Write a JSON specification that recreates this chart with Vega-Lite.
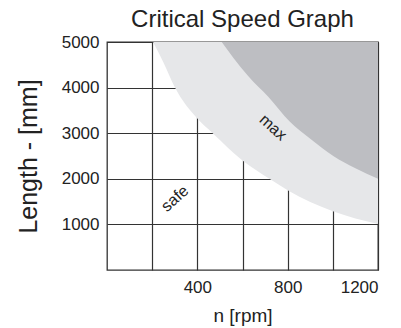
{
  "$schema": "https://vega.github.io/schema/vega-lite/v6.json",
  "width": 271,
  "height": 228,
  "autosize": {"type": "none"},
  "padding": {"left": 107, "top": 42, "right": 23, "bottom": 58},
  "background": "white",
  "title": {"text": "Critical Speed Graph", "font": "Liberation Sans", "fontSize": 24, "fontWeight": "normal", "color": "#222222", "anchor": "middle", "offset": 1},
  "config": {
    "view": {"stroke": "#333333", "strokeWidth": 1.3},
    "axis": {"labelFont": "Liberation Sans", "titleFont": "Liberation Sans", "labelColor": "#222222", "titleColor": "#222222", "titleFontWeight": "normal", "gridColor": "#333333", "gridOpacity": 1, "gridWidth": 1.2, "ticks": false, "domain": false}
  },
  "datasets": {
    "safe": [
      {"n": 204, "L": 5000}, {"n": 250, "L": 4550}, {"n": 301, "L": 4000}, {"n": 400, "L": 3320},
      {"n": 468, "L": 3000}, {"n": 600, "L": 2400}, {"n": 719, "L": 2000}, {"n": 800, "L": 1750},
      {"n": 1000, "L": 1290}, {"n": 1200, "L": 1010}
    ],
    "max": [
      {"n": 508, "L": 5000}, {"n": 560, "L": 4650}, {"n": 626, "L": 4250}, {"n": 714, "L": 3800},
      {"n": 810, "L": 3250}, {"n": 900, "L": 2880}, {"n": 1002, "L": 2500}, {"n": 1100, "L": 2230},
      {"n": 1200, "L": 2000}
    ],
    "labels": [
      {"n": 301, "L": 1566, "label": "safe"},
      {"n": 735, "L": 3126, "label": "max"}
    ]
  },
  "encoding": {
    "x": {"field": "n", "type": "quantitative", "scale": {"domain": [0, 1200], "nice": false},
      "axis": {"values": [200, 400, 600, 800, 1000, 1200], "format": "d", "labelExpr": "datum.value % 400 == 0 ? datum.label : ''", "labelFontSize": 17, "labelPadding": 9, "title": "n [rpm]", "titleFontSize": 19, "titlePadding": 11, "grid": true}},
    "y": {"field": "L", "type": "quantitative", "scale": {"domain": [0, 5000], "nice": false},
      "axis": {"values": [1000, 2000, 3000, 4000, 5000], "format": "d", "labelFontSize": 17, "labelPadding": 8, "title": "Length - [mm]", "titleFontSize": 25, "titlePadding": 20, "grid": true}}
  },
  "layer": [
    {"data": {"name": "safe"}, "mark": {"type": "area", "interpolate": "monotone", "color": "#e6e7e9"}, "encoding": {"y2": {"datum": 5000}}},
    {"data": {"name": "max"}, "mark": {"type": "area", "interpolate": "monotone", "color": "#bdbec2"}, "encoding": {"y2": {"datum": 5000}}},
    {"data": {"name": "labels"}, "transform": [{"filter": "datum.label == 'safe'"}], "mark": {"type": "text", "angle": 318, "font": "Liberation Sans", "fontSize": 16, "color": "#222222"}, "encoding": {"text": {"field": "label"}}},
    {"data": {"name": "labels"}, "transform": [{"filter": "datum.label == 'max'"}], "mark": {"type": "text", "angle": 42, "font": "Liberation Sans", "fontSize": 16, "color": "#222222"}, "encoding": {"text": {"field": "label"}}}
  ]
}
